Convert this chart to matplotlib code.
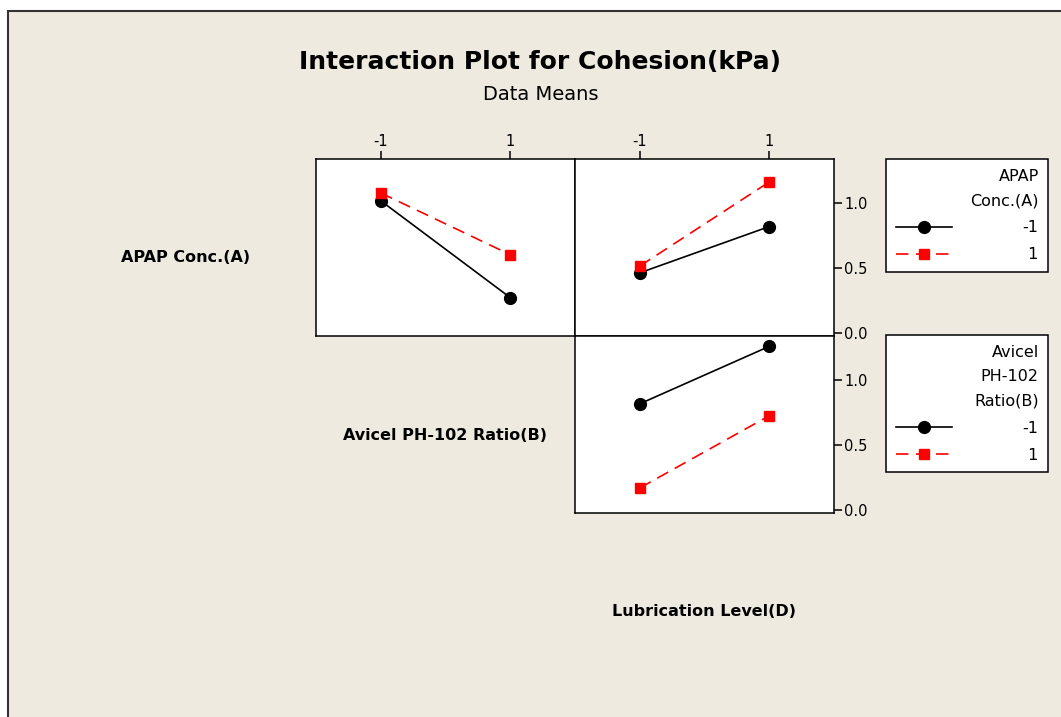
"""Interaction plot (Minitab style) for Cohesion(kPa), data means."""

import matplotlib
matplotlib.use("Agg")
import matplotlib.pyplot as plt
from matplotlib.patches import Rectangle

W, H = 1061, 717
BG = "#eeeae0"

# factor levels and cell means
levels = [-1, 1]
level_labels = ["-1", "1"]
y_ticks = [0.0, 0.5, 1.0]

# APAP Conc.(A) lines vs Avicel PH-102 Ratio(B)
ab_low = [1.018, 0.271]
ab_high = [1.078, 0.602]
# APAP Conc.(A) lines vs Lubrication Level(D)
ad_low = [0.462, 0.819]
ad_high = [0.514, 1.163]
# Avicel PH-102 Ratio(B) lines vs Lubrication Level(D)
bd_low = [0.817, 1.260]
bd_high = [0.168, 0.725]

LOW = dict(color="black", marker="o", ms=8.5, lw=1.2, ls="-")
HIGH = dict(color="red", marker="s", ms=7.5, lw=1.2, ls=(0, (7.5, 4.5)))


def px(left, top, right, bottom):
    return [left / W, 1 - bottom / H, (right - left) / W, (bottom - top) / H]


def style(ax, top_ticks, right_ticks):
    ax.set_facecolor("white")
    ax.set_xlim(-2, 2)
    ax.set_ylim(-0.025, 1.34)
    for s in ax.spines.values():
        s.set_linewidth(1.1)
    if top_ticks:
        ax.xaxis.tick_top()
        ax.set_xticks(levels)
        ax.set_xticklabels(level_labels)
    else:
        ax.set_xticks([])
    if right_ticks:
        ax.yaxis.tick_right()
        ax.set_yticks(y_ticks)
        ax.set_yticklabels([f"{v:.1f}" for v in y_ticks])
    else:
        ax.set_yticks([])
    ax.tick_params(direction="out", length=6, width=1.1, labelsize=10.5, pad=1.5)


fig = plt.figure(figsize=(W / 100, H / 100), dpi=100)
fig.patch.set_facecolor("white")
fig.add_artist(Rectangle((8 / W, -0.01), 1.02, 1 - 11 / H + 0.01,
                         transform=fig.transFigure, facecolor=BG,
                         edgecolor="#333333", lw=1.5, zorder=-5))

ax_tl = fig.add_axes(px(316, 159, 575, 336))
ax_tr = fig.add_axes(px(575, 159, 834, 336))
ax_br = fig.add_axes(px(575, 336, 834, 513))

style(ax_tl, True, False)
style(ax_tr, True, True)
style(ax_br, False, True)

ax_tl.plot(levels, ab_low, **LOW)
ax_tl.plot(levels, ab_high, **HIGH)
la, = ax_tr.plot(levels, ad_low, **LOW)
ha, = ax_tr.plot(levels, ad_high, **HIGH)
lb, = ax_br.plot(levels, bd_low, **LOW)
hb, = ax_br.plot(levels, bd_high, **HIGH)

leg_kw = dict(loc="upper left", alignment="right", fontsize=11.5,
              title_fontsize=11.5, handlelength=3.56, handletextpad=4.4,
              borderpad=0.6, borderaxespad=0, labelspacing=0.75,
              fancybox=False, framealpha=1, edgecolor="black",
              facecolor="white", numpoints=1)

leg1 = fig.legend([la, ha], ["-1", " 1"], title="APAP\nConc.(A)",
                  bbox_to_anchor=(886 / W, 1 - 159 / H), **leg_kw)
leg2 = fig.legend([lb, hb], ["-1", " 1"], title="Avicel\nPH-102\nRatio(B)",
                  bbox_to_anchor=(886 / W, 1 - 335 / H), **leg_kw)
for leg in (leg1, leg2):
    leg.get_frame().set_linewidth(1.1)
    t = leg.get_title()
    t.set_multialignment("right")
    t.set_linespacing(1.8)

fig.text(540 / W, 1 - 62 / H, "Interaction Plot for Cohesion(kPa)",
         ha="center", va="center", fontsize=18, fontweight="bold")
fig.text(541 / W, 1 - 95 / H, "Data Means", ha="center", va="center", fontsize=14)

fig.text(186 / W, 1 - 258 / H, "APAP Conc.(A)", ha="center", va="center",
         fontsize=11.5, fontweight="bold")
fig.text(445 / W, 1 - 435 / H, "Avicel PH-102 Ratio(B)", ha="center", va="center",
         fontsize=11.5, fontweight="bold")
fig.text(704 / W, 1 - 612 / H, "Lubrication Level(D)", ha="center", va="center",
         fontsize=11.5, fontweight="bold")

fig.savefig("out.png", dpi=100, facecolor=fig.get_facecolor())
